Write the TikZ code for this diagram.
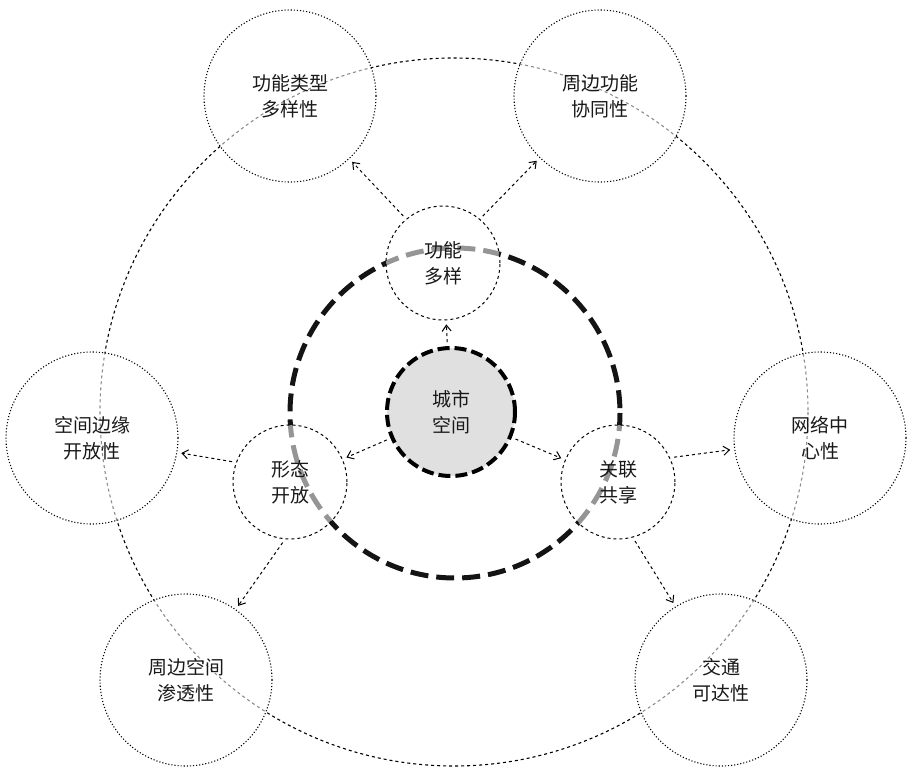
\documentclass[tikz,border=0pt]{standalone}
\usepackage{fontspec}
\setmainfont{Noto Sans CJK SC}
\usetikzlibrary{arrows.meta}
\begin{document}
\begin{tikzpicture}[x=1pt,y=-1pt,
  lbl/.style={font=\fontsize{19}{26}\selectfont,align=center,text=black!90},
  mid/.style={circle,draw,dashed,line width=1pt,minimum size=114pt,fill=white,fill opacity=0.55,text opacity=1,lbl},
  outer/.style={circle,draw,dotted,line width=1.1pt,minimum size=172pt,fill=white,fill opacity=0.55,text opacity=1,lbl},
  arr/.style={-{Straight Barb[length=6pt,width=9pt,line width=1pt]},dashed,line width=1pt,shorten <=4pt,shorten >=4pt}]
\useasboundingbox (0,0) rectangle (913,773);
\draw[dashed,line width=1.1pt] (454,412) circle[radius=354];
\draw[line width=5pt,dash pattern=on 18pt off 8pt,color=black!92] (455,413) circle[radius=165];
\node[circle,draw,line width=4pt,dash pattern=on 12pt off 5pt,fill=black!12,minimum size=128pt,lbl] (c) at (451,412) {城市\\空间};
\node[mid] (f) at (443,263) {功能\\多样};
\node[mid] (x) at (290,482) {形态\\开放};
\node[mid] (g) at (618,482) {关联\\共享};
\node[outer] (o1) at (290,96) {功能类型\\多样性};
\node[outer] (o2) at (600,96) {周边功能\\协同性};
\node[outer] (o3) at (92,438) {空间边缘\\开放性};
\node[outer] (o4) at (820,438) {网络中\\心性};
\node[outer] (o5) at (186,680) {周边空间\\渗透性};
\node[outer] (o6) at (721,680) {交通\\可达性};
\draw[arr] (c) -- (f);
\draw[arr] (c) -- (x);
\draw[arr] (c) -- (g);
\draw[arr] (f.130) -- (o1);
\draw[arr] (f.50) -- (o2);
\draw[arr] (x.160) -- (o3);
\draw[arr] (x.-95) -- (o5);
\draw[arr] (g.25) -- (o4);
\draw[arr] (g.-75) -- (o6);
\end{tikzpicture}
\end{document}
